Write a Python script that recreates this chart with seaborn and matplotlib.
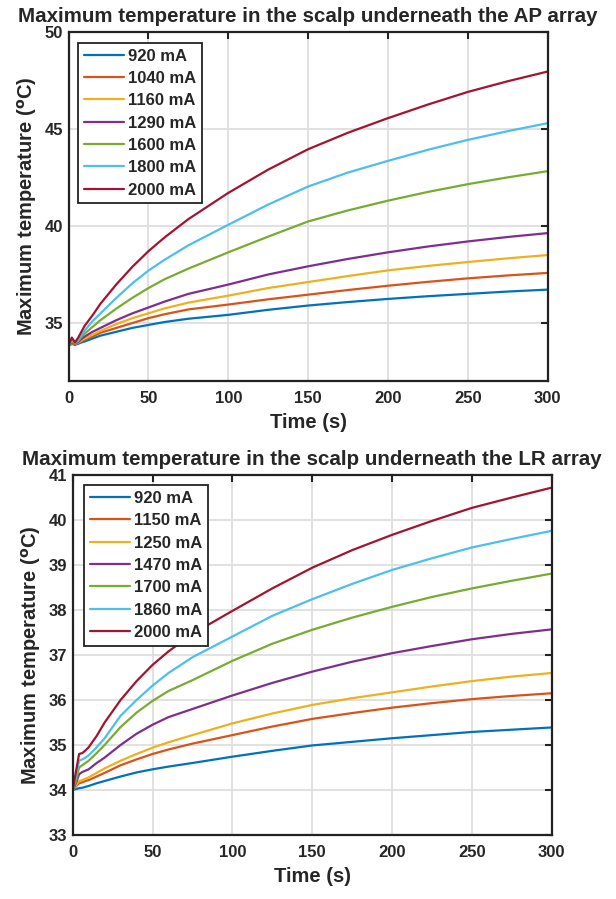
import pandas as pd
import matplotlib.pyplot as plt
import seaborn as sns

sns.set_style("whitegrid")
plt.rcParams['font.family'] = ['Liberation Sans', 'DejaVu Sans']
plt.rcParams['font.weight'] = 'bold'

# Time points (s)
time = [0, 2, 4, 6, 8, 10, 15, 20, 30, 40, 50, 60, 75, 100, 125, 150, 175, 200, 225, 250, 275, 300]

# AP array
ap_labels = ['920 mA', '1040 mA', '1160 mA', '1290 mA', '1600 mA', '1800 mA', '2000 mA']
ap_920 = [33.85, 33.92, 33.88, 33.93, 34.0, 34.05, 34.2, 34.35, 34.55, 34.75, 34.9, 35.05, 35.22, 35.42,
          35.68, 35.9, 36.08, 36.24, 36.38, 36.5, 36.62, 36.72]
ap_1040 = [33.85, 33.95, 33.9, 33.97, 34.06, 34.15, 34.3, 34.5, 34.75, 35.0, 35.25, 35.45, 35.7, 35.95,
           36.22, 36.46, 36.7, 36.92, 37.12, 37.3, 37.45, 37.58]
ap_1160 = [33.85, 33.98, 33.92, 34.0, 34.1, 34.2, 34.4, 34.6, 34.95, 35.25, 35.5, 35.75, 36.05, 36.41,
           36.8, 37.11, 37.42, 37.71, 37.94, 38.14, 38.33, 38.5]
ap_1290 = [33.85, 34.0, 33.93, 34.03, 34.18, 34.3, 34.55, 34.75, 35.15, 35.5, 35.8, 36.1, 36.5, 36.98,
           37.5, 37.92, 38.3, 38.64, 38.94, 39.2, 39.43, 39.63]
ap_1600 = [33.85, 34.05, 33.95, 34.08, 34.28, 34.45, 34.8, 35.15, 35.75, 36.3, 36.8, 37.25, 37.8, 38.64,
           39.45, 40.23, 40.8, 41.3, 41.75, 42.15, 42.5, 42.82]
ap_1800 = [33.85, 34.15, 33.98, 34.15, 34.4, 34.6, 35.1, 35.5, 36.3, 37.05, 37.7, 38.25, 39.0, 40.06,
           41.1, 42.03, 42.75, 43.35, 43.92, 44.43, 44.88, 45.29]
ap_2000 = [33.85, 34.25, 34.0, 34.25, 34.55, 34.85, 35.4, 36.0, 37.0, 37.9, 38.7, 39.4, 40.35, 41.7,
           42.9, 43.95, 44.8, 45.55, 46.25, 46.9, 47.45, 47.95]

# LR array
lr_labels = ['920 mA', '1150 mA', '1250 mA', '1470 mA', '1700 mA', '1860 mA', '2000 mA']
lr_920 = [34.0, 34.02, 34.04, 34.05, 34.07, 34.09, 34.15, 34.2, 34.3, 34.39, 34.46, 34.52, 34.6, 34.74,
          34.87, 34.99, 35.07, 35.15, 35.22, 35.29, 35.34, 35.39]
lr_1150 = [34.0, 34.08, 34.15, 34.17, 34.2, 34.22, 34.3, 34.38, 34.55, 34.68, 34.8, 34.9, 35.03, 35.22,
           35.41, 35.58, 35.71, 35.83, 35.93, 36.02, 36.09, 36.15]
lr_1250 = [34.0, 34.1, 34.2, 34.22, 34.25, 34.28, 34.38, 34.48, 34.65, 34.8, 34.94, 35.06, 35.22, 35.48,
           35.7, 35.89, 36.04, 36.17, 36.3, 36.42, 36.52, 36.6]
lr_1470 = [34.0, 34.15, 34.35, 34.4, 34.43, 34.46, 34.6, 34.72, 35.0, 35.25, 35.45, 35.62, 35.8, 36.1,
           36.38, 36.63, 36.85, 37.04, 37.2, 37.35, 37.47, 37.57]
lr_1700 = [34.0, 34.2, 34.5, 34.55, 34.6, 34.65, 34.82, 35.0, 35.4, 35.72, 35.98, 36.2, 36.44, 36.87,
           37.25, 37.56, 37.83, 38.07, 38.29, 38.48, 38.65, 38.81]
lr_1860 = [34.0, 34.3, 34.65, 34.68, 34.72, 34.77, 34.95, 35.15, 35.65, 36.0, 36.32, 36.6, 36.95, 37.41,
           37.87, 38.24, 38.58, 38.89, 39.15, 39.39, 39.58, 39.76]
lr_2000 = [34.0, 34.4, 34.8, 34.82, 34.88, 34.95, 35.2, 35.5, 36.0, 36.42, 36.78, 37.08, 37.47, 37.98,
           38.48, 38.94, 39.33, 39.67, 39.98, 40.27, 40.5, 40.72]

colors = ['#0072BD', '#D95319', '#EDB120', '#7E2F8E', '#77AC30', '#4DBEEE', '#A2142F']


def long_form(labels, series):
    rows = []
    for lab, vals in zip(labels, series):
        for t, v in zip(time, vals):
            rows.append((t, v, lab))
    return pd.DataFrame(rows, columns=['time', 'temp', 'current'])


ap_df = long_form(ap_labels, [ap_920, ap_1040, ap_1160, ap_1290, ap_1600, ap_1800, ap_2000])
lr_df = long_form(lr_labels, [lr_920, lr_1150, lr_1250, lr_1470, lr_1700, lr_1860, lr_2000])

fig = plt.figure(figsize=(6.16, 8.99), dpi=100)
ax1 = fig.add_axes([0.1114, 0.5759, 0.7776, 0.3888])
ax2 = fig.add_axes([0.1180, 0.0712, 0.7776, 0.4004])


def style(ax, df, labels, ylim, yticks, title, leg_anchor):
    sns.lineplot(data=df, x='time', y='temp', hue='current', hue_order=labels,
                 palette=colors, linewidth=1.6, ax=ax, sort=False)
    ax.set_xlim(0, 300)
    ax.set_ylim(*ylim)
    ax.set_xticks([0, 50, 100, 150, 200, 250, 300])
    ax.set_yticks(yticks)
    ax.grid(True, color='#dedede', linewidth=1.3)
    for s in ax.spines.values():
        s.set_color('#222222')
        s.set_linewidth(1.6)
    ax.tick_params(direction='in', length=5, width=1.5, labelsize=12, top=True, right=True,
                   colors='#222222', labelcolor='#262626', pad=4)
    ax.tick_params(axis='x', pad=7)
    for lab in ax.get_xticklabels() + ax.get_yticklabels():
        lab.set_fontweight('bold')
    ax.set_xlabel('Time (s)', fontsize=14.5, fontweight='bold', color='#262626', labelpad=5)
    ax.set_ylabel(r'Maximum temperature ($\mathbf{^o}$C)', fontsize=14.5, fontweight='bold',
                  color='#262626', labelpad=4)
    ax.set_title(title, fontsize=14.8, fontweight='bold', pad=7)
    leg = ax.legend(loc='upper left', frameon=True, fancybox=False, fontsize=12,
                    handlelength=2.4, handletextpad=0.25, labelspacing=0.44,
                    borderpad=0.35, borderaxespad=0, bbox_to_anchor=leg_anchor)
    leg.get_frame().set_edgecolor('#222222')
    leg.get_frame().set_linewidth(1.3)
    leg.get_frame().set_alpha(1)
    for txt in leg.get_texts():
        txt.set_fontweight('bold')


style(ax1, ap_df, ap_labels, (32, 50), [35, 40, 45, 50],
      'Maximum temperature in the scalp underneath the AP array', (0.0196, 0.9685))
style(ax2, lr_df, lr_labels, (33, 41), list(range(33, 42)),
      'Maximum temperature in the scalp underneath the LR array', (0.0236, 0.972))

fig.savefig('out.png', dpi=100)
